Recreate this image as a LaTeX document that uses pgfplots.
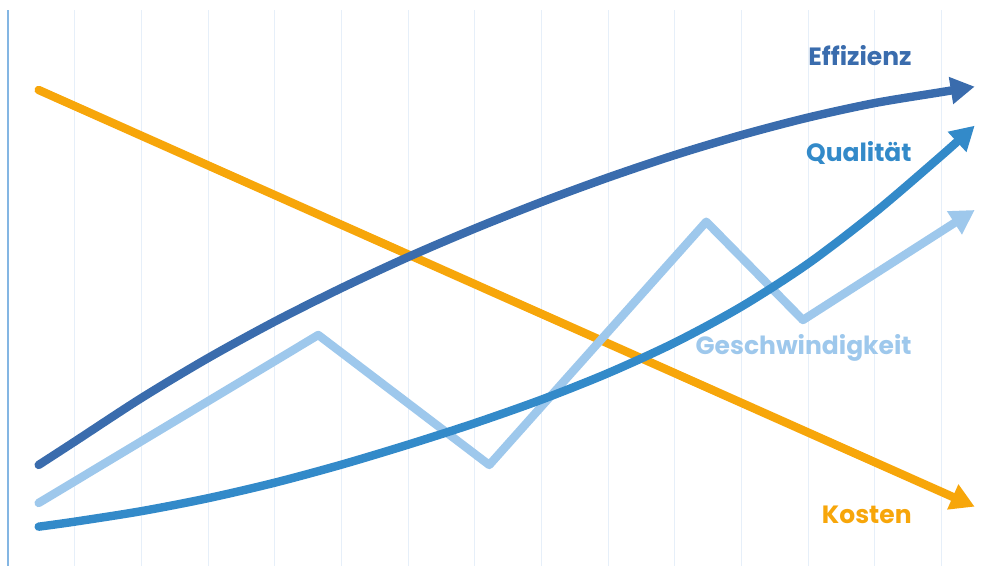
\documentclass[border=0pt]{standalone}
\usepackage{fontspec}
\setmainfont{Poppins}
\usepackage{pgfplots}
\pgfplotsset{compat=1.18}
\usetikzlibrary{arrows.meta}
\definecolor{effi}{HTML}{3A6CAD}
\definecolor{qual}{HTML}{338AC9}
\definecolor{gesch}{HTML}{9EC8EC}
\definecolor{kost}{HTML}{F7A60A}
\definecolor{leftline}{HTML}{84B6E3}
\definecolor{gridc}{HTML}{E6EFF9}
\begin{document}
\begin{tikzpicture}
\begin{axis}[
  at={(4pt,0pt)}, anchor=south west,
  scale only axis, width=494.5pt, height=278pt,
  xmin=0, xmax=14.835, ymin=0, ymax=100,
  axis y line*=left, axis x line*=bottom,
  x axis line style={draw=none},
  y axis line style={draw=leftline, line width=1.2pt, -},
  xtick={1,...,14}, ytick=\empty,
  xticklabels={}, tick style={draw=none},
  xmajorgrids, grid style={draw=gridc, line width=0.5pt},
  clip=false,
  every axis plot/.append style={line width=4.2pt, line cap=round, line join=round, mark=none},
]
% Kosten
\addplot[kost, -{Triangle[length=12pt,width=13pt]}] coordinates {(0.46,85.61) (14.5,10.67)};
% Geschwindigkeit
\addplot[gesch, -{Triangle[length=12pt,width=13pt]}] coordinates {
(0.46,11.33) (4.654,41.55) (7.219,18.17) (10.474,61.92) (11.924,44.24) (14.5,64.03)};
% Qualitaet
\addplot[qual, smooth, -{Triangle[length=12pt,width=13pt]}] coordinates {
(0.46,7.07) (1,7.97) (2,9.86) (3,12.19) (4,14.98) (5,18.22) (6,21.82) (7,25.68)
(8,29.91) (9,34.68) (10,40.16) (11,46.64) (12,54.37) (13,63.54) (14,73.79) (14.5,79.19)};
% Effizienz
\addplot[effi, smooth, -{Triangle[length=12pt,width=13pt]}] coordinates {
(0.46,18.17) (1,22.37) (2,30.20) (3,37.39) (4,43.96) (5,49.98) (6,55.56) (7,60.68)
(8,65.45) (9,69.86) (10,73.90) (11,77.50) (12,80.65) (13,83.26) (14,85.23) (14.5,86.21)};
\node[anchor=base east, text=effi, font=\fontsize{12.5}{15}\selectfont\bfseries, inner sep=0pt] at (axis cs:13.56,89.98) {Effizienz};
\node[anchor=base east, text=qual, font=\fontsize{12.5}{15}\selectfont\bfseries, inner sep=0pt] at (axis cs:13.56,72.72) {Qualität};
\node[anchor=base east, text=gesch, font=\fontsize{12.5}{15}\selectfont\bfseries, inner sep=0pt] at (axis cs:13.56,37.95) {Geschwindigkeit};
\node[anchor=base east, text=kost, font=\fontsize{12.5}{15}\selectfont\bfseries, inner sep=0pt] at (axis cs:13.56,7.68) {Kosten};
\end{axis}
\pgfresetboundingbox
\useasboundingbox (0,0) rectangle (498.5pt,283pt);
\end{tikzpicture}
\end{document}
